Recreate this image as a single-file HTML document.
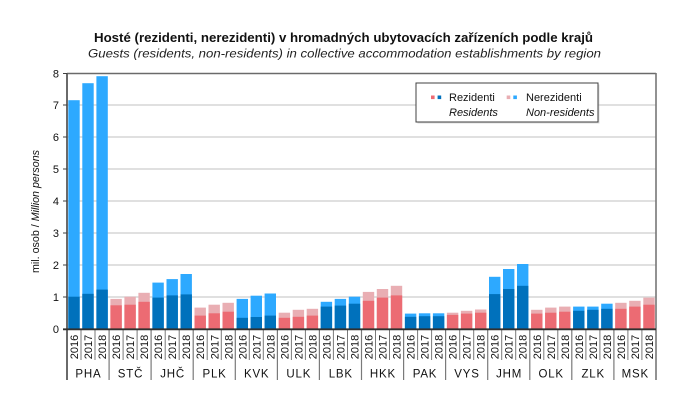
<!DOCTYPE html>
<html><head><meta charset="utf-8"><style>
html,body{margin:0;padding:0;background:#fff;}
svg{display:block;font-family:"Liberation Sans","DejaVu Sans",sans-serif;}
</style></head><body>
<svg width="691" height="406" viewBox="0 0 691 406" xmlns="http://www.w3.org/2000/svg">
<rect width="691" height="406" fill="#fff"/>
<!-- titles -->
<text x="94" y="42" font-size="13" font-weight="bold" fill="#111" textLength="499" lengthAdjust="spacingAndGlyphs">Hosté (rezidenti, nerezidenti) v hromadných ubytovacích zařízeních podle krajů</text>
<text x="88" y="57.5" font-size="12" font-style="italic" fill="#222" textLength="513" lengthAdjust="spacingAndGlyphs">Guests (residents, non-residents) in collective accommodation establishments by region</text>
<!-- gridlines -->
<g stroke="#d6d6d6" stroke-width="1.6">
<line x1="67" y1="105" x2="656" y2="105"/>
<line x1="67" y1="137" x2="656" y2="137"/>
<line x1="67" y1="169" x2="656" y2="169"/>
<line x1="67" y1="201" x2="656" y2="201"/>
<line x1="67" y1="233" x2="656" y2="233"/>
<line x1="67" y1="265" x2="656" y2="265"/>
<line x1="67" y1="297" x2="656" y2="297"/>
</g>
<!-- legend -->
<rect x="417.5" y="84.5" width="182" height="39" fill="#bbb" opacity="0.5"/>
<rect x="416" y="83" width="182" height="39" fill="#fff" stroke="#404040" stroke-width="1"/>
<rect x="431" y="95.5" width="3.6" height="3.6" fill="#ec6b73"/>
<rect x="437.6" y="95.5" width="3.6" height="3.6" fill="#0071bc"/>
<rect x="506.7" y="95.5" width="3.6" height="3.6" fill="#e9aeb3"/>
<rect x="513.3" y="95.5" width="3.6" height="3.6" fill="#2da9ff"/>
<g font-size="11" fill="#111">
<text x="449" y="101">Rezidenti</text>
<text x="449" y="116" font-style="italic">Residents</text>
<text x="526" y="101">Nerezidenti</text>
<text x="526" y="116" font-style="italic">Non-residents</text>
</g>
<!-- bars: light (total) then dark (resident) -->
<g>
<!-- PHA -->
<rect x="68.3" y="100.2" width="11.4" height="228.8" fill="#2da9ff"/><rect x="68.3" y="296.7" width="11.4" height="32.3" fill="#0071bc"/>
<rect x="82.3" y="83.2" width="11.4" height="245.8" fill="#2da9ff"/><rect x="82.3" y="293.8" width="11.4" height="35.2" fill="#0071bc"/>
<rect x="96.4" y="76.2" width="11.4" height="252.8" fill="#2da9ff"/><rect x="96.4" y="289.6" width="11.4" height="39.4" fill="#0071bc"/>
<!-- STC -->
<rect x="110.4" y="298.9" width="11.4" height="30.1" fill="#e9aeb3"/><rect x="110.4" y="305.3" width="11.4" height="23.7" fill="#ec6b73"/>
<rect x="124.4" y="296.7" width="11.4" height="32.3" fill="#e9aeb3"/><rect x="124.4" y="304.7" width="11.4" height="24.3" fill="#ec6b73"/>
<rect x="138.4" y="292.8" width="11.4" height="36.2" fill="#e9aeb3"/><rect x="138.4" y="301.8" width="11.4" height="27.2" fill="#ec6b73"/>
<!-- JHC -->
<rect x="152.4" y="282.6" width="11.4" height="46.4" fill="#2da9ff"/><rect x="152.4" y="297.6" width="11.4" height="31.4" fill="#0071bc"/>
<rect x="166.5" y="279.1" width="11.4" height="49.9" fill="#2da9ff"/><rect x="166.5" y="295.4" width="11.4" height="33.6" fill="#0071bc"/>
<rect x="180.5" y="274.0" width="11.4" height="55.0" fill="#2da9ff"/><rect x="180.5" y="294.4" width="11.4" height="34.6" fill="#0071bc"/>
<!-- PLK -->
<rect x="194.5" y="307.6" width="11.4" height="21.4" fill="#e9aeb3"/><rect x="194.5" y="315.6" width="11.4" height="13.4" fill="#ec6b73"/>
<rect x="208.5" y="304.7" width="11.4" height="24.3" fill="#e9aeb3"/><rect x="208.5" y="313.3" width="11.4" height="15.7" fill="#ec6b73"/>
<rect x="222.5" y="302.8" width="11.4" height="26.2" fill="#e9aeb3"/><rect x="222.5" y="311.7" width="11.4" height="17.3" fill="#ec6b73"/>
<!-- KVK -->
<rect x="236.6" y="298.9" width="11.4" height="30.1" fill="#2da9ff"/><rect x="236.6" y="317.8" width="11.4" height="11.2" fill="#0071bc"/>
<rect x="250.6" y="295.7" width="11.4" height="33.3" fill="#2da9ff"/><rect x="250.6" y="317.0" width="11.4" height="12.0" fill="#0071bc"/>
<rect x="264.6" y="293.5" width="11.4" height="35.5" fill="#2da9ff"/><rect x="264.6" y="315.6" width="11.4" height="13.4" fill="#0071bc"/>
<!-- ULK -->
<rect x="278.7" y="312.7" width="11.4" height="16.3" fill="#e9aeb3"/><rect x="278.7" y="317.8" width="11.4" height="11.2" fill="#ec6b73"/>
<rect x="292.7" y="309.8" width="11.4" height="19.2" fill="#e9aeb3"/><rect x="292.7" y="316.8" width="11.4" height="12.2" fill="#ec6b73"/>
<rect x="306.7" y="308.8" width="11.4" height="20.2" fill="#e9aeb3"/><rect x="306.7" y="315.6" width="11.4" height="13.4" fill="#ec6b73"/>
<!-- LBK -->
<rect x="320.7" y="301.8" width="11.4" height="27.2" fill="#2da9ff"/><rect x="320.7" y="306.6" width="11.4" height="22.4" fill="#0071bc"/>
<rect x="334.7" y="298.9" width="11.4" height="30.1" fill="#2da9ff"/><rect x="334.7" y="305.6" width="11.4" height="23.4" fill="#0071bc"/>
<rect x="348.8" y="296.7" width="11.4" height="32.3" fill="#2da9ff"/><rect x="348.8" y="303.7" width="11.4" height="25.3" fill="#0071bc"/>
<!-- HKK -->
<rect x="362.8" y="291.9" width="11.4" height="37.1" fill="#e9aeb3"/><rect x="362.8" y="300.8" width="11.4" height="28.2" fill="#ec6b73"/>
<rect x="376.8" y="289.0" width="11.4" height="40.0" fill="#e9aeb3"/><rect x="376.8" y="297.6" width="11.4" height="31.4" fill="#ec6b73"/>
<rect x="390.8" y="285.8" width="11.4" height="43.2" fill="#e9aeb3"/><rect x="390.8" y="295.4" width="11.4" height="33.6" fill="#ec6b73"/>
<!-- PAK -->
<rect x="404.9" y="313.6" width="11.4" height="15.4" fill="#2da9ff"/><rect x="404.9" y="316.8" width="11.4" height="12.2" fill="#0071bc"/>
<rect x="418.9" y="313.3" width="11.4" height="15.7" fill="#2da9ff"/><rect x="418.9" y="316.2" width="11.4" height="12.8" fill="#0071bc"/>
<rect x="432.9" y="313.3" width="11.4" height="15.7" fill="#2da9ff"/><rect x="432.9" y="316.2" width="11.4" height="12.8" fill="#0071bc"/>
<!-- VYS -->
<rect x="446.9" y="312.7" width="11.4" height="16.3" fill="#e9aeb3"/><rect x="446.9" y="314.9" width="11.4" height="14.1" fill="#ec6b73"/>
<rect x="460.9" y="310.8" width="11.4" height="18.2" fill="#e9aeb3"/><rect x="460.9" y="313.6" width="11.4" height="15.4" fill="#ec6b73"/>
<rect x="475.0" y="309.5" width="11.4" height="19.5" fill="#e9aeb3"/><rect x="475.0" y="312.7" width="11.4" height="16.3" fill="#ec6b73"/>
<!-- JHM -->
<rect x="489.0" y="276.8" width="11.4" height="52.2" fill="#2da9ff"/><rect x="489.0" y="294.1" width="11.4" height="34.9" fill="#0071bc"/>
<rect x="503.0" y="269.0" width="11.4" height="60.0" fill="#2da9ff"/><rect x="503.0" y="289.0" width="11.4" height="40.0" fill="#0071bc"/>
<rect x="517.0" y="264.0" width="11.4" height="65.0" fill="#2da9ff"/><rect x="517.0" y="285.8" width="11.4" height="43.2" fill="#0071bc"/>
<!-- OLK -->
<rect x="531.1" y="309.8" width="11.4" height="19.2" fill="#e9aeb3"/><rect x="531.1" y="313.6" width="11.4" height="15.4" fill="#ec6b73"/>
<rect x="545.1" y="307.6" width="11.4" height="21.4" fill="#e9aeb3"/><rect x="545.1" y="312.7" width="11.4" height="16.3" fill="#ec6b73"/>
<rect x="559.1" y="306.6" width="11.4" height="22.4" fill="#e9aeb3"/><rect x="559.1" y="311.7" width="11.4" height="17.3" fill="#ec6b73"/>
<!-- ZLK -->
<rect x="573.1" y="306.6" width="11.4" height="22.4" fill="#2da9ff"/><rect x="573.1" y="310.8" width="11.4" height="18.2" fill="#0071bc"/>
<rect x="587.2" y="306.6" width="11.4" height="22.4" fill="#2da9ff"/><rect x="587.2" y="309.8" width="11.4" height="19.2" fill="#0071bc"/>
<rect x="601.2" y="303.7" width="11.4" height="25.3" fill="#2da9ff"/><rect x="601.2" y="308.8" width="11.4" height="20.2" fill="#0071bc"/>
<!-- MSK -->
<rect x="615.2" y="302.8" width="11.4" height="26.2" fill="#e9aeb3"/><rect x="615.2" y="308.8" width="11.4" height="20.2" fill="#ec6b73"/>
<rect x="629.2" y="300.8" width="11.4" height="28.2" fill="#e9aeb3"/><rect x="629.2" y="306.6" width="11.4" height="22.4" fill="#ec6b73"/>
<rect x="643.3" y="297.6" width="11.4" height="31.4" fill="#e9aeb3"/><rect x="643.3" y="304.7" width="11.4" height="24.3" fill="#ec6b73"/>
</g>
<!-- frame -->
<line x1="67" y1="73.5" x2="656" y2="73.5" stroke="#6a6a6a" stroke-width="1.6"/>
<line x1="656" y1="73" x2="656" y2="380" stroke="#777" stroke-width="1.6"/>
<line x1="67" y1="73" x2="67" y2="380" stroke="#5a5a5a" stroke-width="1.8"/>
<!-- y ticks -->
<g stroke="#404040" stroke-width="1">
<line x1="63" y1="73.5" x2="67" y2="73.5"/><line x1="63" y1="105" x2="67" y2="105"/><line x1="63" y1="137" x2="67" y2="137"/>
<line x1="63" y1="169" x2="67" y2="169"/><line x1="63" y1="201" x2="67" y2="201"/><line x1="63" y1="233" x2="67" y2="233"/>
<line x1="63" y1="265" x2="67" y2="265"/><line x1="63" y1="297" x2="67" y2="297"/><line x1="63" y1="329" x2="67" y2="329"/>
</g>
<!-- year separators -->
<g stroke="#7a7a7a" stroke-width="1">
<line x1="81.0" y1="329" x2="81.0" y2="360"/><line x1="95.0" y1="329" x2="95.0" y2="360"/>
<line x1="123.1" y1="329" x2="123.1" y2="360"/><line x1="137.1" y1="329" x2="137.1" y2="360"/>
<line x1="165.2" y1="329" x2="165.2" y2="360"/><line x1="179.2" y1="329" x2="179.2" y2="360"/>
<line x1="207.2" y1="329" x2="207.2" y2="360"/><line x1="221.3" y1="329" x2="221.3" y2="360"/>
<line x1="249.3" y1="329" x2="249.3" y2="360"/><line x1="263.3" y1="329" x2="263.3" y2="360"/>
<line x1="291.4" y1="329" x2="291.4" y2="360"/><line x1="305.4" y1="329" x2="305.4" y2="360"/>
<line x1="333.4" y1="329" x2="333.4" y2="360"/><line x1="347.5" y1="329" x2="347.5" y2="360"/>
<line x1="375.5" y1="329" x2="375.5" y2="360"/><line x1="389.5" y1="329" x2="389.5" y2="360"/>
<line x1="417.6" y1="329" x2="417.6" y2="360"/><line x1="431.6" y1="329" x2="431.6" y2="360"/>
<line x1="459.7" y1="329" x2="459.7" y2="360"/><line x1="473.7" y1="329" x2="473.7" y2="360"/>
<line x1="501.7" y1="329" x2="501.7" y2="360"/><line x1="515.7" y1="329" x2="515.7" y2="360"/>
<line x1="543.8" y1="329" x2="543.8" y2="360"/><line x1="557.8" y1="329" x2="557.8" y2="360"/>
<line x1="585.9" y1="329" x2="585.9" y2="360"/><line x1="599.9" y1="329" x2="599.9" y2="360"/>
<line x1="627.9" y1="329" x2="627.9" y2="360"/><line x1="641.9" y1="329" x2="641.9" y2="360"/>
</g>
<!-- group separators -->
<g stroke="#7a7a7a" stroke-width="1.2">
<line x1="109.1" y1="329" x2="109.1" y2="380"/><line x1="151.1" y1="329" x2="151.1" y2="380"/>
<line x1="193.2" y1="329" x2="193.2" y2="380"/><line x1="235.3" y1="329" x2="235.3" y2="380"/>
<line x1="277.4" y1="329" x2="277.4" y2="380"/><line x1="319.4" y1="329" x2="319.4" y2="380"/>
<line x1="361.5" y1="329" x2="361.5" y2="380"/><line x1="403.6" y1="329" x2="403.6" y2="380"/>
<line x1="445.6" y1="329" x2="445.6" y2="380"/><line x1="487.7" y1="329" x2="487.7" y2="380"/>
<line x1="529.8" y1="329" x2="529.8" y2="380"/><line x1="571.8" y1="329" x2="571.8" y2="380"/>
<line x1="613.9" y1="329" x2="613.9" y2="380"/>
</g>
<!-- x axis -->
<line x1="63" y1="329.3" x2="656" y2="329.3" stroke="#303030" stroke-width="1.8"/>
<!-- y labels -->
<g font-size="11" fill="#111" text-anchor="end">
<text x="59" y="77.5">8</text><text x="59" y="109">7</text><text x="59" y="141">6</text>
<text x="59" y="173">5</text><text x="59" y="205">4</text><text x="59" y="237">3</text>
<text x="59" y="269">2</text><text x="59" y="301">1</text><text x="59" y="333">0</text>
</g>
<!-- y title -->
<text transform="translate(39,273) rotate(-90)" font-size="11" fill="#111" textLength="123" lengthAdjust="spacingAndGlyphs">mil. osob / <tspan font-style="italic">Million persons</tspan></text>
<!-- year labels -->
<g font-size="11" fill="#111" text-anchor="middle">
<text transform="translate(78.1,347) rotate(-90)">2016</text><text transform="translate(92.1,347) rotate(-90)">2017</text><text transform="translate(106.1,347) rotate(-90)">2018</text>
<text transform="translate(120.1,347) rotate(-90)">2016</text><text transform="translate(134.1,347) rotate(-90)">2017</text><text transform="translate(148.2,347) rotate(-90)">2018</text>
<text transform="translate(162.2,347) rotate(-90)">2016</text><text transform="translate(176.2,347) rotate(-90)">2017</text><text transform="translate(190.2,347) rotate(-90)">2018</text>
<text transform="translate(204.2,347) rotate(-90)">2016</text><text transform="translate(218.3,347) rotate(-90)">2017</text><text transform="translate(232.3,347) rotate(-90)">2018</text>
<text transform="translate(246.3,347) rotate(-90)">2016</text><text transform="translate(260.3,347) rotate(-90)">2017</text><text transform="translate(274.3,347) rotate(-90)">2018</text>
<text transform="translate(288.4,347) rotate(-90)">2016</text><text transform="translate(302.4,347) rotate(-90)">2017</text><text transform="translate(316.4,347) rotate(-90)">2018</text>
<text transform="translate(330.4,347) rotate(-90)">2016</text><text transform="translate(344.5,347) rotate(-90)">2017</text><text transform="translate(358.5,347) rotate(-90)">2018</text>
<text transform="translate(372.5,347) rotate(-90)">2016</text><text transform="translate(386.5,347) rotate(-90)">2017</text><text transform="translate(400.5,347) rotate(-90)">2018</text>
<text transform="translate(414.6,347) rotate(-90)">2016</text><text transform="translate(428.6,347) rotate(-90)">2017</text><text transform="translate(442.6,347) rotate(-90)">2018</text>
<text transform="translate(456.6,347) rotate(-90)">2016</text><text transform="translate(470.7,347) rotate(-90)">2017</text><text transform="translate(484.7,347) rotate(-90)">2018</text>
<text transform="translate(498.7,347) rotate(-90)">2016</text><text transform="translate(512.7,347) rotate(-90)">2017</text><text transform="translate(526.7,347) rotate(-90)">2018</text>
<text transform="translate(540.8,347) rotate(-90)">2016</text><text transform="translate(554.8,347) rotate(-90)">2017</text><text transform="translate(568.8,347) rotate(-90)">2018</text>
<text transform="translate(582.8,347) rotate(-90)">2016</text><text transform="translate(596.9,347) rotate(-90)">2017</text><text transform="translate(610.9,347) rotate(-90)">2018</text>
<text transform="translate(624.9,347) rotate(-90)">2016</text><text transform="translate(638.9,347) rotate(-90)">2017</text><text transform="translate(652.9,347) rotate(-90)">2018</text>
</g>
<!-- region labels -->
<g font-size="11.5" fill="#111" text-anchor="middle" letter-spacing="0.8">
<text x="88.4" y="377.5">PHA</text><text x="130.5" y="377.5">STČ</text><text x="172.6" y="377.5">JHČ</text>
<text x="214.6" y="377.5">PLK</text><text x="256.7" y="377.5">KVK</text><text x="298.8" y="377.5">ULK</text>
<text x="340.8" y="377.5">LBK</text><text x="382.9" y="377.5">HKK</text><text x="425.0" y="377.5">PAK</text>
<text x="467.0" y="377.5">VYS</text><text x="509.1" y="377.5">JHM</text><text x="551.2" y="377.5">OLK</text>
<text x="593.2" y="377.5">ZLK</text><text x="635.3" y="377.5">MSK</text>
</g>
</svg>
</body></html>
